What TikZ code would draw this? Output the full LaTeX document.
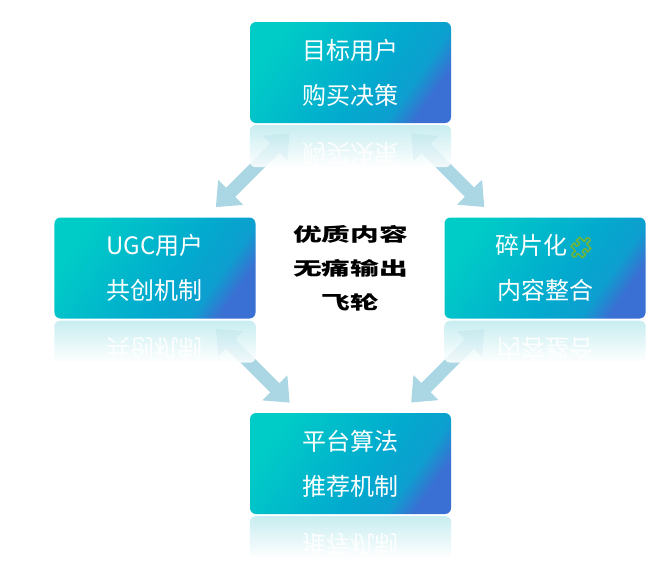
\documentclass[tikz,border=0pt]{standalone}
\usepackage{fontspec}
\newfontfamily\cjk{Noto Sans CJK SC}
\newfontfamily\emoji{Noto Emoji}[FakeBold=4]
\usetikzlibrary{arrows.meta,calc}
\definecolor{cardA}{HTML}{00CCC7}
\definecolor{cardB}{HTML}{02AACE}
\definecolor{cardC}{HTML}{3A70D3}
\definecolor{reflA}{HTML}{BFEAEE}
\definecolor{flowc}{HTML}{ABD6E4}
\definecolor{puzzle}{HTML}{6DB33F}
\pgfdeclarehorizontalshading{cardshade}{100bp}{color(0bp)=(cardA); color(25bp)=(cardA);
  color(56bp)=(cardB); color(68bp)=(cardB!80!cardC); color(75bp)=(cardC); color(100bp)=(cardC)}
\tikzset{
  card/.style={rectangle, rounded corners=6pt, minimum width=201pt, minimum height=101pt,
    shade, shading=cardshade, shading angle=-35,
    text=white, align=center, font=\cjk\fontsize{24pt}{45pt}\selectfont},
  mirror/.style={top color=reflA, bottom color=white, rounded corners=6pt, fill opacity=0.85},
  flow/.style={draw=flowc, line width=13pt, shorten <=86pt, shorten >=86pt,
    {Triangle[width=34pt,length=21pt]}-{Triangle[width=34pt,length=21pt]}}
}
\begin{document}
\begin{tikzpicture}[x=1pt, y=1pt]
  \useasboundingbox (-350.5,-314) rectangle (317.5,268);
  \node[align=center, xscale=1.55, font=\cjk\bfseries\fontsize{18.5pt}{34pt}\selectfont] (hub) at (0,0) {优质内容\\无痛输出\\飞轮};
  \node[card] (goal) at (0,195.5) {目标用户\\购买决策};
  \node[card] (ugc) at (-195.5,0) {UGC用户\\共创机制};
  \node[card] (frag) at (194.5,0) {碎片化{\emoji\textcolor{puzzle}{\fontsize{21pt}{21pt}\selectfont 🧩}}\\内容整合};
  \node[card] (algo) at (0,-195.5) {平台算法\\推荐机制};
  \draw[flow] (ugc.center) -- (goal.center);
  \draw[flow] (goal.center) -- (frag.center);
  \draw[flow] (ugc.center) -- (algo.center);
  \draw[flow] (frag.center) -- (algo.center);
  \foreach \n/\t in {goal/购买决策, ugc/共创机制, frag/内容整合, algo/推荐机制} {
    \shade[mirror] ($(\n.south west)+(0,-2)$) rectangle ($(\n.south east)+(0,-44)$);
    \node[yscale=-1, text=white, opacity=0.9, font=\cjk\fontsize{24pt}{24pt}\selectfont] at ($(\n.south)+(0,-30)$) {\t};
  }
\end{tikzpicture}
\end{document}
